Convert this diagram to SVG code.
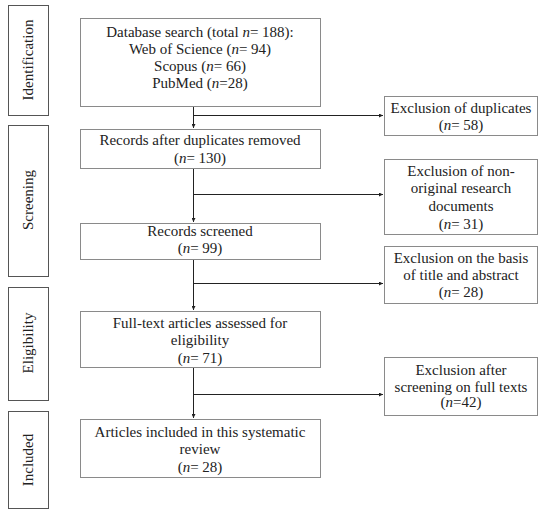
<svg xmlns="http://www.w3.org/2000/svg" width="550" height="521" viewBox="0 0 550 521">
<defs>
<style>
.box{fill:#fff;stroke:#8a8a8a;stroke-width:1}
.side{fill:#fff;stroke:#555;stroke-width:1}
text{font-family:"Liberation Serif","Times New Roman",serif;font-size:15px;fill:#222;text-anchor:middle}
.ln{stroke:#222;stroke-width:1;fill:none}
</style>
<marker id="ah" viewBox="0 0 6 6" refX="6" refY="3" markerWidth="4" markerHeight="4" orient="auto"><path d="M0,0L6,3L0,6z" fill="#222"/></marker>
</defs>
<rect width="550" height="521" fill="#fff"/>
<g id="stage-identification"><rect class="side" x="8.5" y="5.5" width="40" height="110"/><text transform="translate(33,60) rotate(-90)">Identification</text></g>
<g id="stage-screening"><rect class="side" x="8.5" y="125.5" width="40" height="151"/><text transform="translate(33,200) rotate(-90)">Screening</text></g>
<g id="stage-eligibility"><rect class="side" x="8.5" y="287.5" width="40" height="113"/><text transform="translate(33,343) rotate(-90)">Eligibility</text></g>
<g id="stage-included"><rect class="side" x="8.5" y="411.5" width="40" height="97"/><text transform="translate(33,460) rotate(-90)">Included</text></g>
<g id="connectors">
<line class="ln" x1="193.5" y1="106" x2="193.5" y2="128" marker-end="url(#ah)"/>
<line class="ln" x1="193.5" y1="115.5" x2="383" y2="115.5" marker-end="url(#ah)"/>
<line class="ln" x1="193.5" y1="168" x2="193.5" y2="222" marker-end="url(#ah)"/>
<line class="ln" x1="193.5" y1="194.5" x2="383" y2="194.5" marker-end="url(#ah)"/>
<line class="ln" x1="193.5" y1="259" x2="193.5" y2="310" marker-end="url(#ah)"/>
<line class="ln" x1="193.5" y1="283.5" x2="383" y2="283.5" marker-end="url(#ah)"/>
<line class="ln" x1="193.5" y1="367" x2="193.5" y2="418" marker-end="url(#ah)"/>
<line class="ln" x1="193.5" y1="394.5" x2="383" y2="394.5" marker-end="url(#ah)"/>
</g>
<g id="database-search"><rect class="box" x="80.5" y="18.5" width="240" height="88"/>
<text x="200" y="37">Database search (total <tspan font-style="italic">n</tspan>= 188):</text>
<text x="200" y="54">Web of Science (<tspan font-style="italic">n</tspan>= 94)</text>
<text x="200" y="71">Scopus (<tspan font-style="italic">n</tspan>= 66)</text>
<text x="200" y="88">PubMed (<tspan font-style="italic">n</tspan>=28)</text></g>
<g id="records-after-duplicates"><rect class="box" x="80.5" y="129.5" width="240" height="39"/>
<text x="200" y="145">Records after duplicates removed</text>
<text x="200" y="163">(<tspan font-style="italic">n</tspan>= 130)</text></g>
<g id="records-screened"><rect class="box" x="80.5" y="223.5" width="240" height="36"/>
<text x="200" y="236">Records screened</text>
<text x="200" y="253">(<tspan font-style="italic">n</tspan>= 99)</text></g>
<g id="full-text"><rect class="box" x="80.5" y="311.5" width="240" height="56"/>
<text x="200" y="328">Full-text articles assessed for</text>
<text x="200" y="345">eligibility</text>
<text x="200" y="363">(<tspan font-style="italic">n</tspan>= 71)</text></g>
<g id="articles-included"><rect class="box" x="80.5" y="419.5" width="240" height="58"/>
<text x="200" y="437">Articles included in this systematic</text>
<text x="200" y="454">review</text>
<text x="200" y="472">(<tspan font-style="italic">n</tspan>= 28)</text></g>
<g id="excl-duplicates"><rect class="box" x="384.5" y="96.5" width="153" height="39"/>
<text x="461" y="113">Exclusion of duplicates</text>
<text x="461" y="130">(<tspan font-style="italic">n</tspan>= 58)</text></g>
<g id="excl-non-original"><rect class="box" x="384.5" y="159.5" width="153" height="75"/>
<text x="461" y="176">Exclusion of non-</text>
<text x="461" y="193">original research</text>
<text x="461" y="211">documents</text>
<text x="461" y="229">(<tspan font-style="italic">n</tspan>= 31)</text></g>
<g id="excl-title-abstract"><rect class="box" x="384.5" y="246.5" width="153" height="57"/>
<text x="461" y="263">Exclusion on the basis</text>
<text x="461" y="280">of title and abstract</text>
<text x="461" y="297">(<tspan font-style="italic">n</tspan>= 28)</text></g>
<g id="excl-full-texts"><rect class="box" x="384.5" y="357.5" width="153" height="58"/>
<text x="461" y="375">Exclusion after</text>
<text x="461" y="392">screening on full texts</text>
<text x="461" y="407">(<tspan font-style="italic">n</tspan>=42)</text></g>
</svg>
